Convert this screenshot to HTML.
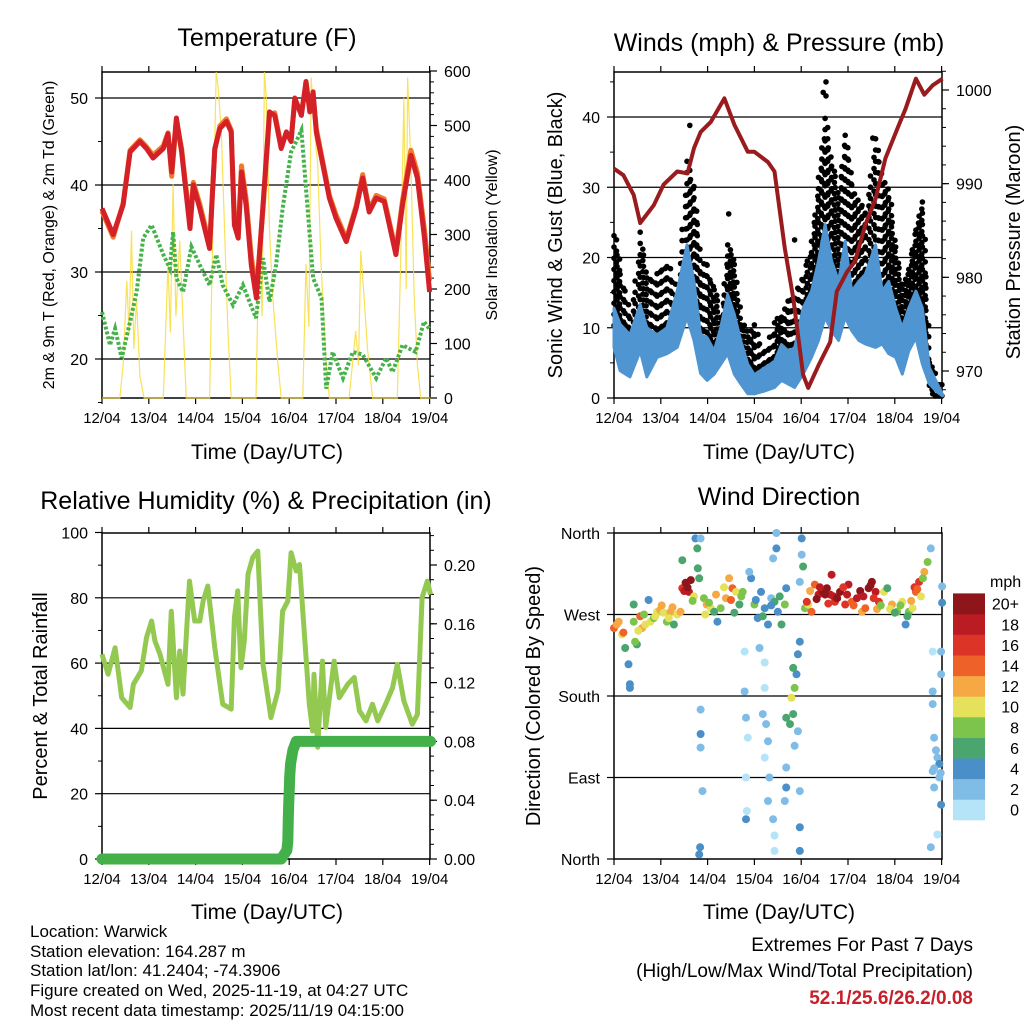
<!DOCTYPE html>
<html><head><meta charset="utf-8"><style>
html,body{margin:0;padding:0;background:#fff}
svg{display:block;font-family:"Liberation Sans",sans-serif}
</style></head><body>
<svg id="s" width="1024" height="1024" viewBox="0 0 1024 1024" xmlns="http://www.w3.org/2000/svg">
<rect width="1024" height="1024" fill="#fff"/>
<g font-size="25" text-anchor="middle" fill="#000">
<text x="267" y="46">Temperature (F)</text>
<text x="779" y="51">Winds (mph) &amp; Pressure (mb)</text>
<text x="266" y="509">Relative Humidity (%) &amp; Precipitation (in)</text>
<text x="779" y="505">Wind Direction</text>
</g>
<g font-size="21" text-anchor="middle">
<text x="267" y="459">Time (Day/UTC)</text>
<text x="779" y="459">Time (Day/UTC)</text>
<text x="267" y="919">Time (Day/UTC)</text>
<text x="779" y="919">Time (Day/UTC)</text>
</g>
<g font-size="20" text-anchor="middle">
<text transform="translate(562,235) rotate(-90)">Sonic Wind &amp; Gust (Blue, Black)</text>
<text transform="translate(1020,242) rotate(-90)">Station Pressure (Maroon)</text>
<text transform="translate(47,696) rotate(-90)">Percent &amp; Total Rainfall</text>
<text transform="translate(540,696) rotate(-90)">Direction (Colored By Speed)</text>
</g>
<g font-size="16" text-anchor="middle">
<text transform="translate(54,235) rotate(-90)">2m &amp; 9m T (Red, Orange) &amp; 2m Td (Green)</text>
<text transform="translate(497,235) rotate(-90)">Solar Insolation (Yellow)</text>
</g>
<g font-size="17">
<text x="30" y="937">Location: Warwick</text>
<text x="30" y="957">Station elevation: 164.287 m</text>
<text x="30" y="976">Station lat/lon: 41.2404; -74.3906</text>
<text x="30" y="996">Figure created on Wed, 2025-11-19, at 04:27 UTC</text>
<text x="30" y="1016">Most recent data timestamp: 2025/11/19 04:15:00</text>
</g>
<g font-size="19" text-anchor="end">
<text x="973" y="951">Extremes For Past 7 Days</text>
<text x="973" y="977">(High/Low/Max Wind/Total Precipitation)</text>
<text x="973" y="1004" fill="#c8202a" font-weight="bold">52.1/25.6/26.2/0.08</text>
</g>
<text x="990" y="587" font-size="16">mph</text>
<g id="plots"></g>
</svg>
<script>
// ---------- data ----------
const dayLabels=["12/04","13/04","14/04","15/04","16/04","17/04","18/04","19/04"];
const tempT=[0,0.24,0.45,0.60,0.81,0.95,1.09,1.31,1.41,1.49,1.59,1.70,1.88,1.95,2.09,2.30,2.41,2.52,2.66,2.76,2.83,2.91,2.98,3.08,3.19,3.30,3.44,3.58,3.69,3.83,3.94,4.04,4.12,4.26,4.36,4.44,4.51,4.58,4.72,4.86,5.00,5.22,5.43,5.57,5.71,5.86,6.03,6.28,6.42,6.60,6.74,6.89,7.0];
const tempRed=[37.3,34.3,37.7,43.8,45.0,44.2,43.1,44.2,45.9,41.5,47.7,43.8,35.0,40.0,37.3,32.7,44.2,46.5,47.3,46.1,35.4,33.9,41.5,37.7,30.8,27.0,37.7,48.4,48.0,44.2,46.1,45.0,50.0,48.0,51.9,48.4,50.7,46.1,42.3,38.5,36.2,33.5,37.3,40.8,36.9,38.5,38.1,32.0,37.7,43.4,40.8,33.9,27.7];
const tempOrange=[37.0,34.0,37.9,44.0,45.2,44.4,43.4,44.5,46.0,41.0,47.4,44.2,35.6,40.3,37.8,33.2,44.0,46.8,47.6,46.3,36.0,34.8,42.2,38.4,31.8,27.8,37.2,48.0,48.3,44.5,46.0,45.3,49.6,48.4,51.5,48.8,50.2,46.5,42.6,38.8,36.6,33.8,37.6,41.2,37.2,38.8,38.4,32.4,38.2,44.0,41.4,34.8,29.0];
const dewT=[0,0.17,0.28,0.42,0.60,0.74,0.88,1.06,1.31,1.45,1.52,1.59,1.73,1.91,2.09,2.30,2.44,2.58,2.80,3.01,3.29,3.44,3.58,3.72,3.86,4.04,4.15,4.26,4.36,4.51,4.69,4.79,4.93,5.15,5.36,5.57,5.86,6.07,6.21,6.42,6.70,6.88,6.99];
const dewV=[25.4,21.6,23.5,20.1,24.3,27.7,33.9,35.4,32.0,30.4,34.6,29.3,27.7,32.9,30.8,28.5,32.0,28.5,26.2,28.5,24.7,31.6,26.6,30.8,37.3,43.8,45.0,46.3,39.6,29.3,27.0,16.6,20.8,17.8,20.8,20.5,17.8,20.1,18.5,21.6,20.8,24.3,23.5];
const solarT=[0,0.38,0.45,0.53,0.58,0.63,0.68,0.74,0.81,0.9,1.31,1.41,1.46,1.52,1.58,1.66,1.80,2.30,2.34,2.44,2.48,2.55,2.62,2.69,2.76,3.29,3.36,3.42,3.47,3.51,3.58,3.65,3.76,3.83,4.29,4.36,4.42,4.47,4.54,4.61,4.68,4.79,4.86,5.28,5.42,5.48,5.53,5.60,5.67,5.78,6.31,6.38,6.45,6.50,6.53,6.60,6.67,6.74,6.81,7.02];
const solarV=[0,0,60,215,120,307,90,180,40,0,0,246,120,392,150,289,0,0,185,598,570,490,307,123,0,0,307,150,598,551,307,185,61,0,0,246,130,588,490,429,246,61,0,0,123,60,270,185,92,0,0,246,551,200,588,429,185,61,0,0];
const windT=[0,0.13,0.34,0.56,0.70,0.92,1.13,1.35,1.56,1.71,1.85,1.99,2.14,2.28,2.43,2.57,2.71,2.86,3.00,3.22,3.43,3.58,3.72,3.86,4.04,4.22,4.37,4.51,4.65,4.80,4.94,5.08,5.23,5.37,5.59,5.73,5.87,6.02,6.16,6.30,6.45,6.59,6.74,6.88,7.02];
const windHi=[14.3,12.0,10.5,14.8,11.5,10.5,11.5,16.7,23.3,18.1,10.5,10.1,8.2,11.5,16.2,13.4,9.6,6.3,4.8,5.8,6.7,9.1,8.2,8.6,14.3,16.7,21.0,26.2,21.0,18.1,23.8,16.7,18.1,19.1,23.3,16.7,18.1,14.3,11.5,14.3,16.7,14.3,5.8,3.9,2.0];
const windLo=[7.2,3.9,3.0,6.7,3.0,5.8,6.3,7.2,11.5,8.2,3.5,2.5,3.4,4.8,6.3,3.4,2.0,0.6,0.6,1.0,1.5,2.5,2.0,1.5,3.4,5.8,8.2,11.5,9.6,8.2,11.5,9.6,8.2,7.7,7.2,7.7,6.3,5.8,3.4,6.7,8.6,4.8,2.0,1.0,0.3];
const gustHi=[24.3,19.1,11.5,23.8,17.2,18.1,20.0,15.3,33.8,30.5,19.1,19.1,16.2,11.5,21.9,19.1,11.5,9.6,10.5,6.7,11.5,12.0,14.3,15.3,18.1,22.9,32.4,40.0,34.3,29.5,39.0,30.9,27.6,27.6,37.1,31.4,29.5,21.9,16.2,19.1,25.2,29.0,5.8,3.4,2.5];
const gustExtT=[1.62,2.45,4.47,4.53,4.53,5.53,3.86];
const gustExtV=[38.8,26.2,43.5,45.0,43.0,37.0,22.5];
const presT=[0,0.20,0.42,0.56,0.85,1.06,1.35,1.57,1.71,1.85,2.07,2.36,2.57,2.86,3.00,3.29,3.43,3.65,3.83,4.04,4.15,4.37,4.62,4.76,4.98,5.15,5.37,5.59,5.80,6.09,6.23,6.45,6.63,6.81,7.02];
const presV=[991.6,990.9,988.8,985.8,987.7,989.9,991.3,991.1,993.8,995.5,996.6,999.1,996.3,993.4,993.4,992.3,991.3,983.1,977.8,969.6,968.2,970.6,973.1,978.5,980.6,981.7,985.6,988.4,992.7,996.3,998.0,1001.2,999.5,1000.5,1001.2];
const rhT=[0,0.13,0.28,0.42,0.60,0.67,0.84,0.95,1.06,1.13,1.24,1.41,1.48,1.59,1.66,1.73,1.80,1.87,1.98,2.09,2.16,2.26,2.41,2.58,2.76,2.83,2.90,2.97,3.04,3.12,3.22,3.33,3.44,3.61,3.76,3.86,3.97,4.04,4.15,4.22,4.32,4.43,4.50,4.53,4.61,4.71,4.78,4.86,4.96,5.07,5.25,5.39,5.50,5.64,5.78,5.89,6.06,6.21,6.31,6.45,6.63,6.74,6.84,6.95,7.02];
const rhV=[62.7,56.6,64.7,49.4,46.4,53.5,57.6,67.8,72.9,66.8,62.7,53.5,75.9,49.4,63.7,50.5,67.8,85.1,72.9,72.9,79.0,83.6,64.7,47.4,45.9,73.9,82.1,58.6,66.8,87.2,92.3,94.3,59.6,43.3,51.5,75.9,79.0,93.8,88.2,90.2,69.8,47.4,39.2,56.6,34.2,60.6,40.3,49.4,60.6,49.4,53.5,55.6,45.4,42.3,47.4,42.3,47.4,52.5,59.6,48.4,41.3,44.3,80.0,85.1,81.0];
const precipT=[0,1,2,3,3.83,3.95,3.97,3.98,3.99,4.0,4.01,4.03,4.08,4.15,5,6,7.02];
const precipV=[0,0,0,0,0,0.006,0.012,0.028,0.037,0.046,0.056,0.065,0.074,0.080,0.080,0.080,0.080];
const dirT=[0,0.06,0.17,0.24,0.31,0.34,0.34,0.42,0.42,0.49,0.56,0.60,0.67,0.74,0.78,0.85,0.92,0.99,1.06,1.13,1.21,1.28,1.35,1.42,1.46,1.53,1.60,1.64,1.71,1.46,1.74,1.78,1.79,1.82,1.85,1.92,1.98,2.07,2.14,2.21,2.28,2.39,2.46,2.53,2.61,2.68,2.75,2.93,3.00,3.07,3.14,3.22,3.29,3.36,3.43,3.50,3.58,3.65,3.68,2.89,3.40,3.47,3.47,4.01,4.01,4.04,3.97,
4.08,4.15,4.22,4.29,4.37,4.47,4.55,4.62,4.65,4.72,4.83,4.94,5.01,5.08,5.19,5.30,5.37,5.44,5.51,5.59,5.66,5.77,5.84,5.94,6.05,6.16,6.23,6.30,6.38,6.45,6.52,6.63,6.70,6.77,
1.85,1.85,1.85,1.89,1.84,1.82,2.79,2.82,2.86,2.82,2.84,2.82,3.22,3.18,3.25,3.29,3.22,3.32,3.29,3.40,3.43,3.43,2.79,3.11,3.22,
3.68,3.76,3.79,3.86,3.90,3.83,3.93,3.97,3.68,3.68,3.65,3.97,3.97,3.97,3.86,3.83,3.93,
6.81,6.99,6.99,6.81,6.81,6.84,6.91,6.95,6.81,6.99,6.91,6.77,7.01,7.01,6.84,6.88,6.95,6.84,6.98,
0.10,0.20,0.45,0.52,0.64,0.88,1.02,1.17,1.25,1.50,1.57,1.68,1.95,2.03,2.18,2.35,2.50,2.57,2.72,3.03,3.18,3.36,3.54,4.12,4.19,4.33,4.40,4.51,4.58,4.69,4.77,4.90,4.98,5.12,5.26,5.33,5.48,5.55,5.62,5.70,5.90,6.00,6.12,6.27,6.35,6.42,6.48,6.56,6.60];
const dirV=[255,259,248,233,215,193,189,262,281,237,268,255,259,286,262,266,273,275,272,262,273,259,270,273,299,305,295,308,290,330,354,343,321,310,354,288,281,277,273,262,277,288,310,299,295,281,295,310,281,266,295,277,259,288,284,273,259,281,299,317,332,343,360,354,336,323,306,
277,281,273,303,292,295,299,292,314,284,295,281,303,284,288,273,277,299,306,295,284,295,299,281,273,284,259,273,277,295,306,317,328,343,
165,138,123,75,13,5,185,156,134,90,53,44,189,160,149,130,112,90,64,44,26,9,229,233,217,
156,149,178,189,204,211,226,240,101,79,64,75,35,9,125,160,141,
229,229,204,185,171,134,112,90,97,60,27,13,301,283,79,120,105,100,95,
262,250,240,252,270,268,280,266,278,296,300,285,270,283,292,300,286,272,290,286,268,280,290,284,296,287,300,292,282,290,288,300,292,280,296,290,302,288,276,280,276,272,280,268,285,300,298,290,310];
const dirS=[14,12,10,6,4,4,4,8,6,6,14,12,10,4,10,8,10,12,10,8,12,6,10,12,16,20,18,20,10,6,4,6,6,6,2,8,12,10,6,4,8,12,12,14,10,6,8,4,8,4,4,4,4,2,6,4,6,8,4,2,2,4,2,4,2,6,2,
8,10,14,14,18,20,20,18,18,16,20,16,18,14,18,12,14,20,20,18,16,10,6,12,8,10,4,8,10,14,16,12,8,2,
2,4,2,2,4,4,2,2,0,0,0,4,0,2,2,2,0,2,2,2,0,0,0,2,0,
6,6,10,8,4,6,4,4,2,4,2,2,4,4,2,6,2,
0,2,2,2,2,2,2,2,2,4,0,2,2,4,2,2,4,2,2,
12,14,8,10,8,10,12,10,12,18,20,8,10,8,12,10,14,6,8,4,6,4,6,16,12,20,18,20,16,18,20,16,18,14,20,18,20,16,12,8,10,6,8,6,12,16,14,10,8];
const speedBins=["0","2","4","6","8","10","12","14","16","18","20+"];
const speedColors=["#b5e3f8","#80bde6","#4a8fc8","#4aa56f","#7cc44b","#e6e15a","#f6a845","#ee6229","#dc3427","#bb1c23","#8e1519"];

// ---------- helpers ----------
const NS="http://www.w3.org/2000/svg";
const root=document.getElementById('plots');
function mk(tag,attrs,parent){const e=document.createElementNS(NS,tag);for(const k in attrs)e.setAttribute(k,attrs[k]);(parent||root).appendChild(e);return e;}
const f=v=>v.toFixed(1);

// axis functions
const xL=d=>102+d*46.8, xR=d=>614+d*46.8;
const yTemp=v=>359-(v-20)*8.7, ySol=v=>398-v*0.545;
const yWind=v=>398-v*7.025, yPres=v=>371-(v-970)*9.367;
const yRH=v=>859-v*3.265, yPr=v=>859-v*1470;
const yDir=v=>859-v*326/360;

function frame(name,bx0,bx1,by0,by1,leftTicks,leftY,leftFmt,leftMinor,rightTicks,rightY,rightFmt,rightMinor){
  const g=mk('g',{});
  
  
  leftTicks.forEach(v=>{const y=leftY(v); if(y>by0+1&&y<by1-1){const l=mk('line',{x1:bx0,x2:bx1,y1:y,y2:y,stroke:'#000','stroke-width':1.2},g);
    
    }});
  const box=mk('rect',{x:bx0,y:by0,width:bx1-bx0,height:by1-by0,fill:'none',stroke:'#000','stroke-width':1.5},g);
  
  
  dayLabels.forEach((lab,i)=>{const x=bx0+i*46.8;
    mk('line',{x1:x,x2:x,y1:by0,y2:by0-6,stroke:'#000','stroke-width':1.2},g);
    mk('line',{x1:x,x2:x,y1:by1,y2:by1+6,stroke:'#000','stroke-width':1.2},g);
    const t=mk('text',{x:x,y:by1+25,'font-size':15,'text-anchor':'middle'},g);t.textContent=lab;
    
    });
  leftMinor.forEach(v=>{const y=leftY(v);mk('line',{x1:bx0,x2:bx0-4,y1:y,y2:y,stroke:'#000'},g);});
  leftTicks.forEach(v=>{const y=leftY(v);mk('line',{x1:bx0,x2:bx0-7,y1:y,y2:y,stroke:'#000','stroke-width':1.2},g);
    const t=mk('text',{x:bx0-14,y:y+6,'font-size':16,'text-anchor':'end'},g);t.textContent=leftFmt(v);
    
    });
  if(rightTicks){
    rightMinor.forEach(v=>{const y=rightY(v);mk('line',{x1:bx1,x2:bx1+4,y1:y,y2:y,stroke:'#000'},g);});
    rightTicks.forEach(v=>{const y=rightY(v);mk('line',{x1:bx1,x2:bx1+7,y1:y,y2:y,stroke:'#000','stroke-width':1.2},g);
      const t=mk('text',{x:bx1+14,y:y+6,'font-size':16},g);t.textContent=rightFmt(v);
      
      });
  }
}
function rng(a,b,s){const r=[];for(let v=a;v<=b+1e-9;v+=s)r.push(+v.toFixed(4));return r;}
function poly(xs,ys,X,Y){return xs.map((t,i)=>f(X(t))+','+f(Y(ys[i]))).join(' ');}

// ---------- Panel 1: temperature ----------
frame('temperature',102,430,72,398,[20,30,40,50],yTemp,v=>v,[15,25,35,45],rng(0,600,100),ySol,v=>v,rng(0,600,20));
let e;
e=mk('polyline',{points:poly(solarT,solarV,xL,ySol),fill:'none',stroke:'#f8dc3c','stroke-width':1.2,'stroke-opacity':0.85});


e=mk('polyline',{points:poly(dewT,dewV,xL,yTemp),fill:'none',stroke:'#45b24a','stroke-width':4,'stroke-dasharray':'3 2'});


e=mk('polyline',{points:poly(tempT,tempOrange,xL,yTemp),fill:'none',stroke:'#f07a2a','stroke-width':5,'stroke-linejoin':'round'});


e=mk('polyline',{points:poly(tempT,tempRed,xL,yTemp),fill:'none',stroke:'#d42027','stroke-width':5,'stroke-linejoin':'round'});



// ---------- Panel 2: winds ----------
frame('winds',614,942,72,398,[0,10,20,30,40],yWind,v=>v,[5,15,25,35,45],[970,980,990,1000],yPres,v=>v,rng(968,1002,2));
const gg=mk('g',{fill:'#000'});


for(let i=0;i<windT.length-1;i++){
  for(let k=0;k<4;k++){const a=k/4;
    const t=windT[i]+(windT[i+1]-windT[i])*a;
    const lo=windHi[i]+(windHi[i+1]-windHi[i])*a;
    const hi=gustHi[i]+(gustHi[i+1]-gustHi[i])*a;
    for(let v=Math.max(0.3,Math.min(lo,hi)-4);v<=hi;v+=1.6){mk('circle',{cx:f(xR(t)+(k%2)),cy:f(yWind(v)),r:2.8},gg);}
  }
}
gustExtT.forEach((t,i)=>{mk('circle',{cx:f(xR(t)),cy:f(yWind(gustExtV[i])),r:2.8},gg);});
const band=windT.map((t,i)=>f(xR(t))+','+f(yWind(windHi[i]-1.5))).concat(windT.slice().reverse().map((t,j)=>{const i=windT.length-1-j;return f(xR(t))+','+f(yWind(windLo[i]));})).join(' ');
e=mk('polygon',{points:band,fill:'#4e95d1',stroke:'#4e95d1','stroke-width':3,'stroke-linejoin':'round'});


e=mk('polyline',{points:poly(presT,presV,xR,yPres),fill:'none',stroke:'#991b1e','stroke-width':4,'stroke-linejoin':'round'});



// ---------- Panel 3: RH & precip ----------
frame('humidity',102,430,533,859,[0,20,40,60,80,100],yRH,v=>v,rng(10,90,20),rng(0,0.2,0.04),yPr,v=>v.toFixed(2),rng(0,0.22,0.01));
e=mk('polyline',{points:poly(rhT,rhV,xL,yRH),fill:'none',stroke:'#93c950','stroke-width':5,'stroke-linejoin':'round'});


e=mk('polyline',{points:poly(precipT,precipV,xL,yPr),fill:'none',stroke:'#44b049','stroke-width':11,'stroke-linecap':'round','stroke-linejoin':'round'});



// ---------- Panel 4: wind direction ----------
frame('direction',614,942,533,859,[0,90,180,270,360],yDir,v=>({0:'North',90:'East',180:'South',270:'West',360:'North'})[v],[],null);
const dg=mk('g',{});


dirT.forEach((t,i)=>{const bin=Math.min(10,Math.floor(dirS[i]/2));
  mk('circle',{cx:f(xR(t)),cy:f(yDir(dirV[i])),r:4,fill:speedColors[bin]},dg);});

// colorbar
const cb=mk('g',{});


speedBins.forEach((lab,i)=>{const h=20.6,y=820-(i+1)*h;
  const r=mk('rect',{x:953,y:f(y),width:32,height:h+0.3,fill:speedColors[i]},cb);
  
  
  const t=mk('text',{x:1019,y:f(y+h/2+6),'font-size':16,'text-anchor':'end'},cb);t.textContent=lab;
  
  });
</script>
</body></html>
